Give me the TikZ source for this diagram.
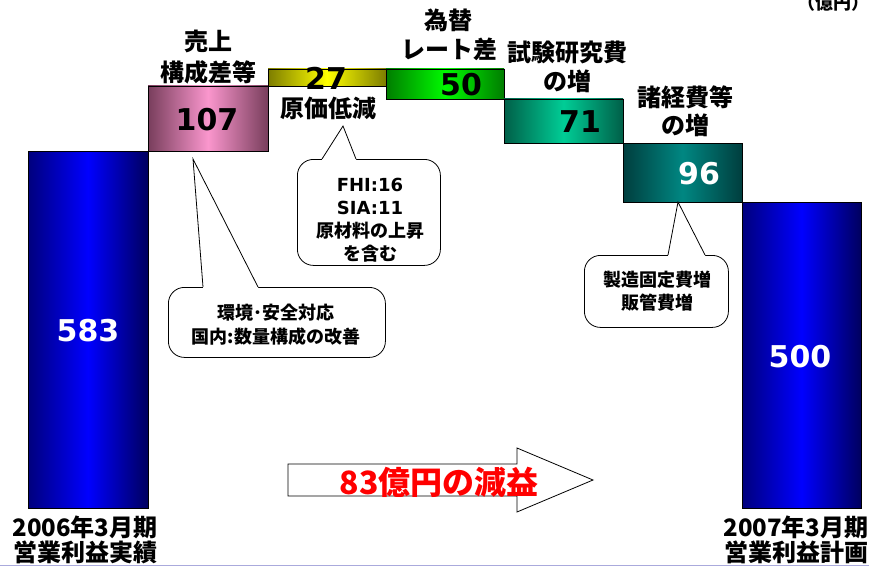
\documentclass[tikz,border=0pt]{standalone}
\usepackage{fontspec}
\newfontfamily\jp{Noto Sans CJK JP}
\newfontfamily\num{DejaVu Sans}
\definecolor{navyL}{RGB}{0,0,125}
\definecolor{navyR}{RGB}{0,0,95}
\definecolor{blueM}{RGB}{0,0,255}
\definecolor{pinkE}{RGB}{120,62,92}
\definecolor{pinkM}{RGB}{250,150,205}
\definecolor{yelE}{RGB}{125,125,0}
\definecolor{yelM}{RGB}{255,255,0}
\definecolor{grnE}{RGB}{0,125,0}
\definecolor{grnM}{RGB}{0,250,0}
\definecolor{tealE}{RGB}{0,95,72}
\definecolor{tealM}{RGB}{0,205,150}
\definecolor{dtealE}{RGB}{0,62,62}
\definecolor{dtealM}{RGB}{0,135,130}
\definecolor{lav}{RGB}{170,170,220}
\tikzset{
  bar/.style={draw=black, line width=0.7pt, anchor=north west, inner sep=0pt, outer sep=0pt},
  lbl/.style={font=\jp\bfseries\fontsize{24}{28}\selectfont, inner sep=0pt},
  numb/.style={font=\num\bfseries\fontsize{30}{31}\selectfont, inner sep=0pt},
  cobox/.style={draw=black, line width=0.8pt, fill=white, rounded corners=16pt, inner sep=0pt, anchor=north west},
  cotext/.style={font=\jp\bfseries\fontsize{18}{23}\selectfont, align=center, inner sep=0pt},
}
\begin{document}
\begin{tikzpicture}[x=1pt,y=-1pt]
\useasboundingbox (0,0) rectangle (869,567);
% bars
\node[bar, minimum width=120pt, minimum height=357pt, left color=navyL, right color=navyR, middle color=blueM] (b583) at (28,151) {};
\node[bar, minimum width=120pt, minimum height=65pt, left color=pinkE, right color=pinkE, middle color=pinkM] (b107) at (148,86) {};
\node[bar, minimum width=118pt, minimum height=17pt, left color=yelE, right color=yelE, middle color=yelM] (b27) at (268,69) {};
\node[bar, minimum width=118pt, minimum height=30pt, left color=grnE, right color=grnE, middle color=grnM] (b50) at (386,69) {};
\node[bar, minimum width=119pt, minimum height=44pt, left color=tealE, right color=tealE, middle color=tealM] (b71) at (504,99) {};
\node[bar, minimum width=119pt, minimum height=59pt, left color=dtealE, right color=dtealE, middle color=dtealM] (b96) at (623,143) {};
\node[bar, minimum width=119pt, minimum height=306pt, left color=navyL, right color=navyR, middle color=blueM] (b500) at (742,202) {};
% values
\node[numb, text=white] (v583) at (88,331) {583};
\node[numb, text=black] (v107) at (207,120) {107};
\node[numb, text=black] (v27) at (326,78) {27};
\node[numb, text=black] (v50) at (461,85) {50};
\node[numb, text=black] (v71) at (580,122) {71};
\node[numb, text=white] (v96) at (699,174) {96};
\node[numb, text=white] (v500) at (800,357) {500};
% labels
\node[lbl] (l1a) at (208,41) {売上};
\node[lbl] (l1b) at (208,72) {構成差等};
\node[lbl] (l2) at (328,108) {原価低減};
\node[lbl] (l3a) at (448,20) {為替};
\node[lbl] (l3b) at (449,49) {レート差};
\node[lbl] (l4a) at (567,52) {試験研究費};
\node[lbl] (l4b) at (567,81) {の増};
\node[lbl] (l5a) at (685,97) {諸経費等};
\node[lbl] (l5b) at (685,125) {の増};
\node[lbl] (y1a) at (85,527) {2006年3月期};
\node[lbl] (y1b) at (85,552) {営業利益実績};
\node[lbl] (y2a) at (796,527) {2007年3月期};
\node[lbl] (y2b) at (796,552) {営業利益計画};
\node[font=\jp\bfseries\fontsize{18}{20}\selectfont, inner sep=0pt, anchor=south west] (unit) at (797,12) {（億円）};
% callout 1
\node[cobox, minimum width=143pt, minimum height=106pt] (c1) at (297,159) {};
\coordinate (t1) at (343,126);
\coordinate (c1l) at (322,159);
\coordinate (c1r) at (356,159);
\fill[white] (c1l) -- (t1) -- (c1r) -- ([yshift=-2pt]c1r) -- ([yshift=-2pt]c1l) -- cycle;
\draw[line width=0.8pt] (c1l) -- (t1) -- (c1r);
\node[cotext] (c1t) at (370,220) {{\num FHI:16}\\{\num SIA:11}\\原材料の上昇\\を含む};
% callout 2
\node[cobox, minimum width=217pt, minimum height=70pt] (c2) at (168,287) {};
\coordinate (t2) at (193,159);
\coordinate (c2l) at (203,287);
\coordinate (c2r) at (258,287);
\fill[white] (c2l) -- (t2) -- (c2r) -- ([yshift=-2pt]c2r) -- ([yshift=-2pt]c2l) -- cycle;
\draw[line width=0.8pt] (c2l) -- (t2) -- (c2r);
\node[cotext, font=\jp\bfseries\fontsize{18}{24}\selectfont] (c2t) at (276,325) {環境･安全対応\\国内:数量構成の改善};
% callout 3
\node[cobox, minimum width=144pt, minimum height=72pt] (c3) at (584,255) {};
\coordinate (t3) at (678,202);
\coordinate (c3l) at (668,255);
\coordinate (c3r) at (705,255);
\fill[white] (c3l) -- (t3) -- (c3r) -- ([yshift=-2pt]c3r) -- ([yshift=-2pt]c3l) -- cycle;
\draw[line width=0.8pt] (c3l) -- (t3) -- (c3r);
\node[cotext] (c3t) at (657,291) {製造固定費増\\販管費増};
% big arrow
\draw[line width=0.8pt, fill=white] (288,464) -- (517,464) -- (517,448) -- (593,480) -- (517,512) -- (517,496) -- (288,496) -- cycle;
\node[font=\jp\bfseries\fontsize{32}{33}\selectfont, text=red, inner sep=0pt] (msg) at (439,482) {83億円の減益};
% bottom line
\draw[lav, line width=1.5pt] (0,565.5) -- (869,565.5);
\end{tikzpicture}
\end{document}
